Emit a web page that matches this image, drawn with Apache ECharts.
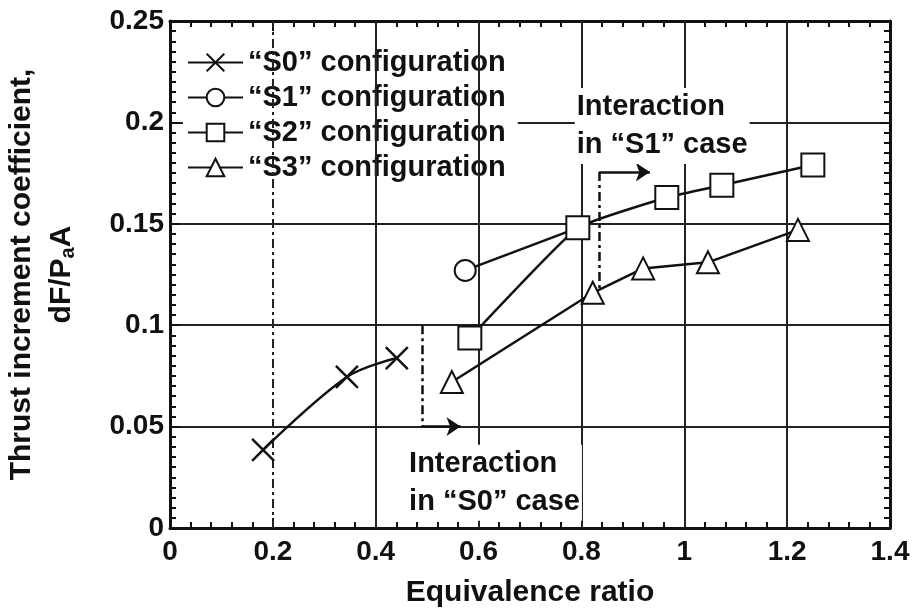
<!DOCTYPE html>
<html><head><meta charset="utf-8">
<script src="https://cdn.jsdelivr.net/npm/echarts@6/dist/echarts.min.js"></script>
<style>html,body{margin:0;padding:0;background:#fff}#c{width:918px;height:615px}</style>
</head><body><div id="c"></div>
<script>
// ---- data ----
const seriesNames = ['\u201cS0\u201d configuration', '\u201cS1\u201d configuration', '\u201cS2\u201d configuration', '\u201cS3\u201d configuration'];
const s0 = [[0.181, 0.0385], [0.344, 0.0745], [0.441, 0.0838]];
const s1 = [[0.574, 0.127], [0.793, 0.148]];
const s2 = [[0.583, 0.0937], [0.793, 0.148], [0.966, 0.163], [1.073, 0.169], [1.25, 0.179]];
const s3 = [[0.548, 0.072], [0.822, 0.116], [0.920, 0.128], [1.046, 0.131], [1.221, 0.147]];
const xGridValues = [0.2, 0.4, 0.6, 0.8, 1.0, 1.2];
const dashedGridValues = [0.2];
const annS0Dash = [[0.49, 0.1], [0.49, 0.05]];
const annS0Arrow = [[0.49, 0.05], [0.565, 0.05]];
const annS1Dash = [[0.834, 0.1755], [0.834, 0.117]];
const annS1Arrow = [[0.834, 0.1755], [0.933, 0.1755]];
const annS0TextPos = [0.461, 0.041];
const annS1TextPos = [0.787, 0.217];
const annS0Lines = ['Interaction', 'in \u201cS0\u201d case'];
const annS1Lines = ['Interaction', 'in \u201cS1\u201d case'];
const xMinorStep = 0.04;
const yMinorStep = 0.005;

const INK = '#111';
const FONT = '"Liberation Sans", Arial, sans-serif';
const chart = echarts.init(document.getElementById('c'));

function axisCommon(extra) {
  return Object.assign({
    type: 'value',
    axisLine: { show: true, onZero: false, lineStyle: { color: INK, width: 3 } },
    axisTick: { show: true, inside: true, length: 10, lineStyle: { color: INK, width: 2 } },
    splitLine: { show: false }
  }, extra);
}
function minorAxis(extra) {
  return Object.assign({
    type: 'value',
    axisLine: { show: false, onZero: false },
    axisTick: { show: true, inside: true, length: 6, lineStyle: { color: INK, width: 2 } },
    axisLabel: { show: false },
    splitLine: { show: false }
  }, extra);
}
const lbl = { color: INK, fontSize: 28, fontWeight: 'bold', fontFamily: FONT };

const dashDot = [9, 4, 3, 4];
const lineSeries = (name, data, symbol, size, smooth) => ({
  name, type: 'line', data, symbol, symbolSize: size, smooth: smooth || false,
  lineStyle: { color: INK, width: 2.5 },
  itemStyle: { color: INK, borderColor: INK, borderWidth: 2.5 },
  z: 5
});

chart.setOption({
  animation: false,
  backgroundColor: '#fff',
  grid: { left: 170, right: 28, top: 21, bottom: 87, outerBoundsMode: 'none', containLabel: false },
  xAxis: [
    axisCommon({ min: 0, max: 1.4, interval: 0.2, position: 'bottom',
      axisLabel: Object.assign({ margin: 10 }, lbl),
      name: 'Equivalence ratio', nameLocation: 'middle', nameGap: 50,
      nameTextStyle: { color: INK, fontSize: 30, fontWeight: 'bold', fontFamily: FONT } }),
    axisCommon({ min: 0, max: 1.4, interval: 0.2, position: 'top', axisLabel: { show: false } }),
    minorAxis({ min: 0, max: 1.4, interval: xMinorStep, position: 'bottom' }),
    minorAxis({ min: 0, max: 1.4, interval: xMinorStep, position: 'top' })
  ],
  yAxis: [
    axisCommon({ min: 0, max: 0.25, interval: 0.05, position: 'left',
      splitLine: { show: true, lineStyle: { color: '#222', width: 2 } },
      axisLabel: Object.assign({ margin: 6 }, lbl),
      name: '{t|Thrust increment coefficient,}\n{t|dF/P}{s|a}{t|A}',
      nameLocation: 'middle', nameRotate: 90, nameGap: 88,
      nameTextStyle: { color: INK, fontFamily: FONT, lineHeight: 40,
        rich: { t: { fontSize: 30, fontWeight: 'bold', color: INK, fontFamily: FONT },
                s: { fontSize: 20, fontWeight: 'bold', color: INK, fontFamily: FONT, padding: [12, 0, 0, 0] } } } }),
    axisCommon({ min: 0, max: 0.25, interval: 0.05, position: 'right', axisLabel: { show: false } }),
    minorAxis({ min: 0, max: 0.25, interval: yMinorStep, position: 'left' }),
    minorAxis({ min: 0, max: 0.25, interval: yMinorStep, position: 'right' })
  ],
  legend: {
    data: seriesNames, orient: 'vertical', left: 183, top: 44,
    itemWidth: 55, itemHeight: 22, itemGap: 6,
    backgroundColor: '#fff', padding: [4, 12, 6, 4],
    textStyle: { color: INK, fontSize: 29, fontWeight: 'bold', fontFamily: FONT }
  },
  series: [
    { name: 'grid', type: 'line', data: [], silent: true, z: 1,
      markLine: { silent: true, symbol: ['none', 'none'], label: { show: false },
        data: xGridValues.map(v => ({ xAxis: v,
          lineStyle: { color: '#222', width: 2, type: dashedGridValues.includes(v) ? dashDot : 'solid' } })) } },
    lineSeries(seriesNames[0], s0, 'path://M0,0L10,10M10,0L0,10', 22, 0.35),
    lineSeries(seriesNames[1], s1, 'emptyCircle', 21),
    lineSeries(seriesNames[2], s2, 'emptyRect', 23, 0.12),
    lineSeries(seriesNames[3], s3, 'emptyTriangle', 22),
    { name: 'annotations', type: 'line', data: [], silent: true, z: 3,
      markLine: { silent: true, label: { show: false }, symbolSize: 14,
        data: [
          [{ coord: annS0Dash[0], symbol: 'none', lineStyle: { color: INK, width: 2.5, type: dashDot } }, { coord: annS0Dash[1], symbol: 'none' }],
          [{ coord: annS0Arrow[0], symbol: 'none', lineStyle: { color: INK, width: 2.5, type: 'solid' } }, { coord: annS0Arrow[1], symbol: 'arrow' }],
          [{ coord: annS1Dash[0], symbol: 'none', lineStyle: { color: INK, width: 2.5, type: dashDot } }, { coord: annS1Dash[1], symbol: 'none' }],
          [{ coord: annS1Arrow[0], symbol: 'none', lineStyle: { color: INK, width: 2.5, type: 'solid' } }, { coord: annS1Arrow[1], symbol: 'arrow' }]
        ] } }
  ]
});

const p0 = chart.convertToPixel({ gridIndex: 0 }, annS0TextPos);
const p1 = chart.convertToPixel({ gridIndex: 0 }, annS1TextPos);
const textStyle = (lines, p) => ({
  type: 'text', x: p[0], y: p[1], z: 50,
  style: { text: lines.join('\n'), fill: INK, font: 'bold 29px ' + FONT, lineHeight: 38,
    backgroundColor: '#fff', padding: [0, 2, 0, 2] }
});
chart.setOption({ graphic: [textStyle(annS0Lines, p0), textStyle(annS1Lines, p1)] });
</script>
</body></html>
